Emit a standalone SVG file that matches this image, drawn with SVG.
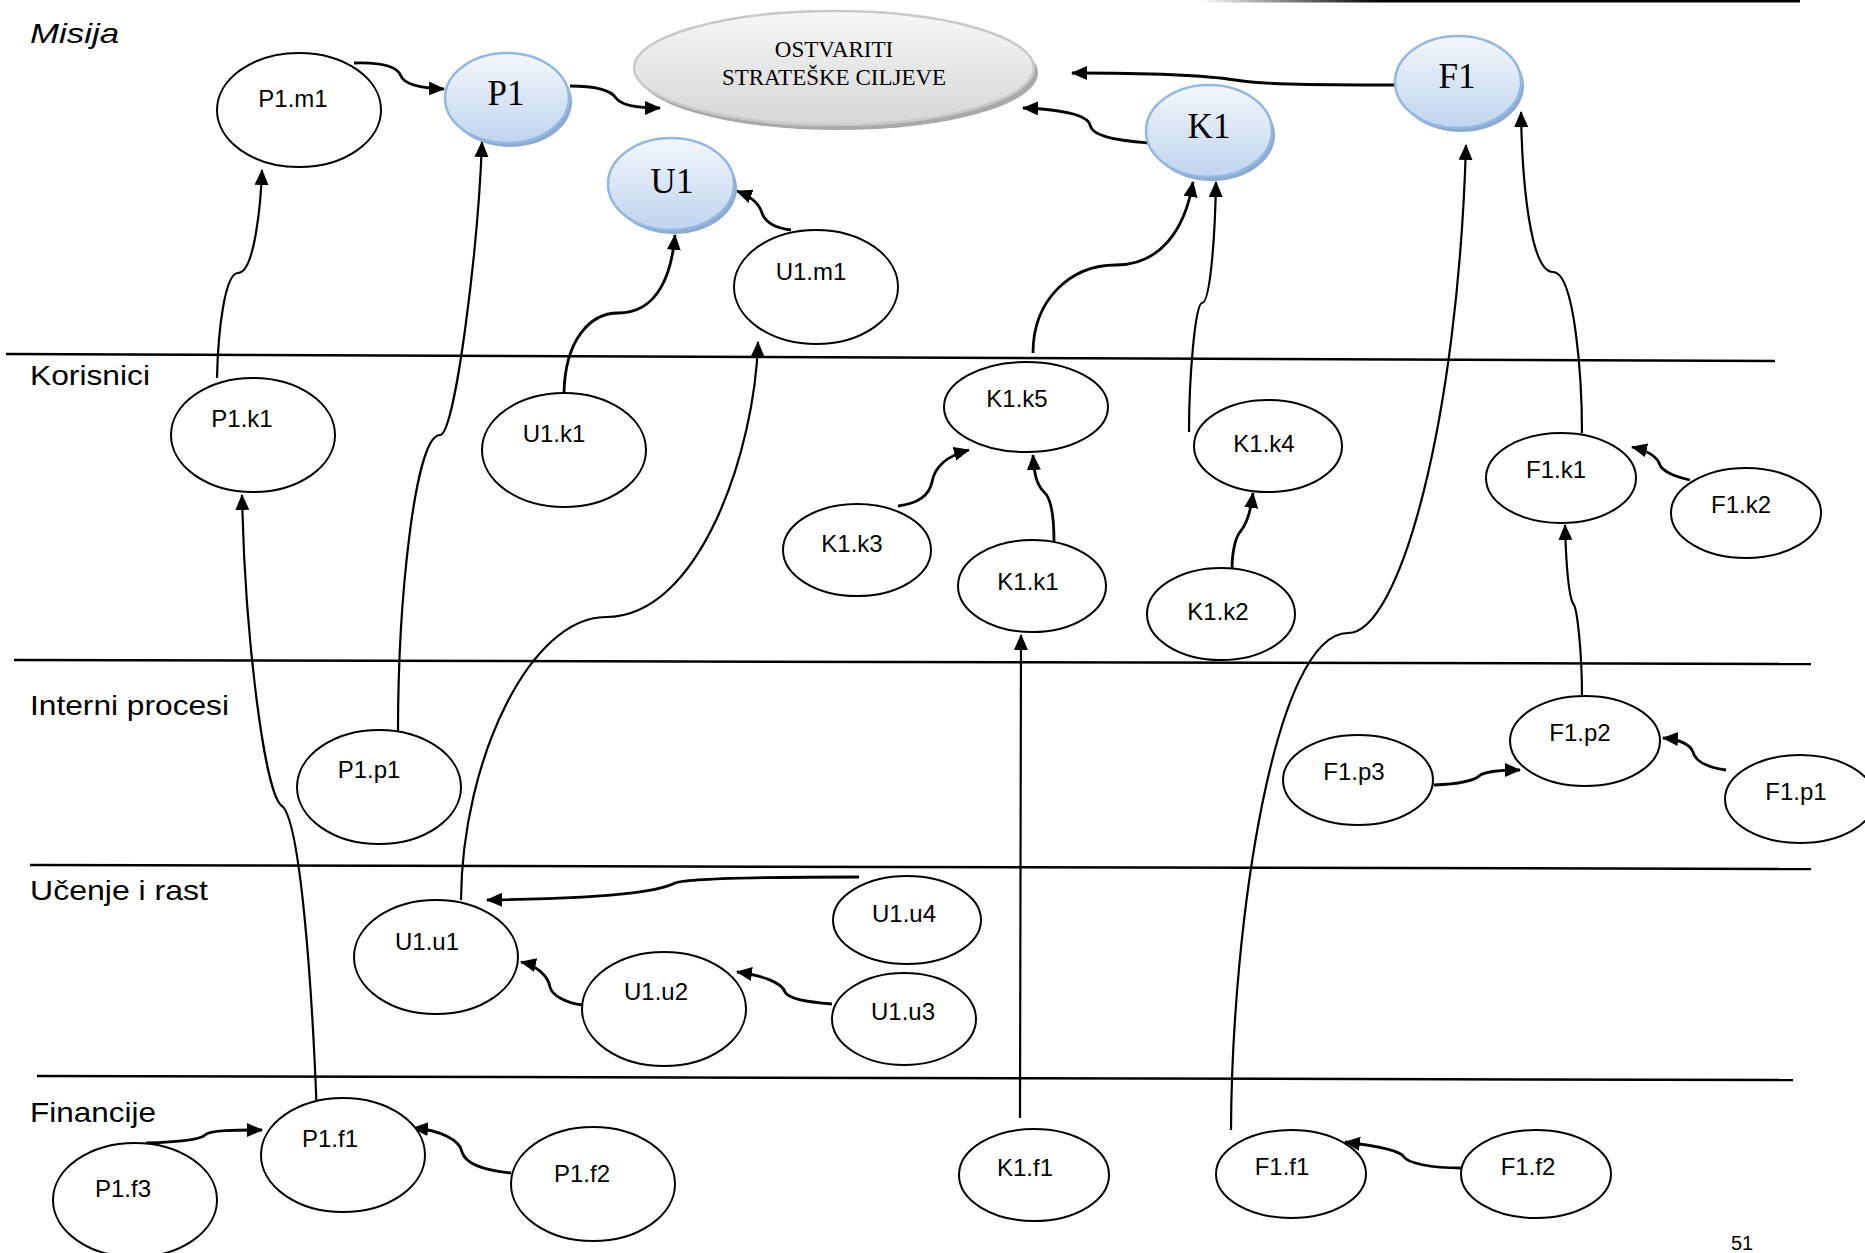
<svg xmlns="http://www.w3.org/2000/svg" width="1865" height="1253" viewBox="0 0 1865 1253">
<style>
.n{fill:#fff;stroke:#000;stroke-width:2}
.t{font-family:"Liberation Sans",Arial,sans-serif;font-size:24px;fill:#000;text-anchor:middle}
.bt{font-family:"Liberation Serif","Times New Roman",serif;font-size:35px;fill:#000;text-anchor:middle}
.lane{font-family:"Liberation Sans",Arial,sans-serif;font-size:28px;fill:#000}
.c{fill:none;stroke:#000;stroke-width:2.8}
.cl{fill:none;stroke:#000;stroke-width:2.2;}
.ln{stroke:#000;stroke-width:2.5}
.bs{fill:#8eaad0}
.bn{fill:url(#blue);stroke:#93b8e0;stroke-width:2.5}
</style>
<defs>
<linearGradient id="blue" x1="0" y1="0" x2="0" y2="1">
<stop offset="0" stop-color="#f4f7fc"/>
<stop offset="1" stop-color="#bfd4ee"/>
</linearGradient>
<linearGradient id="gray" x1="0" y1="0" x2="0" y2="1">
<stop offset="0" stop-color="#f7f7f7"/>
<stop offset="1" stop-color="#d6d6d6"/>
</linearGradient>
<linearGradient id="topln" x1="0" y1="0" x2="1" y2="0">
<stop offset="0" stop-color="#ffffff"/>
<stop offset="0.3" stop-color="#000"/>
<stop offset="1" stop-color="#000"/>
</linearGradient>
<marker id="a" markerUnits="userSpaceOnUse" markerWidth="18" markerHeight="16" refX="15" refY="7" orient="auto">
<path d="M0,0 L16,7 L0,14 z" fill="#000"/>
</marker>
</defs>

<g id="lanes">
<rect x="1199" y="0" width="601" height="2.5" fill="url(#topln)"/>
<line class="ln" x1="6" y1="354" x2="1775" y2="361"/>
<line class="ln" x1="14" y1="660" x2="1811" y2="664"/>
<line class="ln" x1="30" y1="865" x2="1811" y2="869"/>
<line class="ln" x1="37" y1="1076" x2="1793" y2="1080"/>
<text class="lane" x="30" y="43" font-style="italic" textLength="89" lengthAdjust="spacingAndGlyphs">Misija</text>
<text class="lane" x="30" y="385" textLength="120" lengthAdjust="spacingAndGlyphs">Korisnici</text>
<text class="lane" x="30" y="715" textLength="199" lengthAdjust="spacingAndGlyphs">Interni procesi</text>
<text class="lane" x="30" y="900" textLength="178" lengthAdjust="spacingAndGlyphs">Učenje i rast</text>
<text class="lane" x="30" y="1122" textLength="126" lengthAdjust="spacingAndGlyphs">Financije</text>
<text x="1742" y="1250" font-family="'Liberation Sans',Arial,sans-serif" font-size="20" text-anchor="middle">51</text>
</g>

<g id="connectors">
<path class="c" marker-end="url(#a)" d="M354,63 C385,62 398,68 401,76 C404,84 418,88 444,89"/>
<path class="c" marker-end="url(#a)" d="M570,86 C600,86 612,92 616,98 C620,104 635,108 660,108"/>
<path class="c" marker-end="url(#a)" d="M1149,143 C1110,140 1092,135 1090,125 C1088,115 1060,109 1023,108"/>
<path class="c" marker-end="url(#a)" d="M1396,85 C1300,85 1260,84 1235,80 C1210,76 1150,73 1072,73"/>
<path class="c" marker-end="url(#a)" d="M791,230 C775,228 765,222 762,213 C759,203 750,196 737,191"/>
<path class="c" marker-end="url(#a)" d="M564,393 C565,340 590,313 618,313 C660,313 672,270 675,235"/>
<path class="cl" marker-end="url(#a)" d="M217,378 C218,330 225,273 238,273 C255,273 261,200 262,170"/>
<path class="cl" marker-end="url(#a)" d="M398,732 C398,600 415,435 440,435 C455,435 478,250 482,142"/>
<path class="cl" marker-end="url(#a)" d="M461,900 C462,760 530,617 606,617 C700,617 755,450 758,342"/>
<path class="c" marker-end="url(#a)" d="M1033,353 C1033,300 1070,265 1116,265 C1160,265 1185,230 1193,182"/>
<path class="cl" marker-end="url(#a)" d="M1189,432 C1189,380 1195,303 1202,303 C1210,303 1215,240 1216,182"/>
<path class="cl" marker-end="url(#a)" d="M1231,1130 C1232,920 1275,633 1348,633 C1400,633 1458,420 1466,145"/>
<path class="cl" marker-end="url(#a)" d="M1582,433 C1582,380 1575,272 1553,272 C1530,272 1522,180 1521,112"/>
<path class="c" marker-end="url(#a)" d="M898,506 C922,503 930,492 932,482 C935,465 950,455 969,450"/>
<path class="c" marker-end="url(#a)" d="M1054,542 C1054,510 1050,497 1044,492 C1036,484 1034,472 1033,455"/>
<path class="c" marker-end="url(#a)" d="M1232,570 C1232,550 1236,537 1240,532 C1246,525 1251,510 1253,493"/>
<path class="c" marker-end="url(#a)" d="M1690,480 C1672,476 1662,470 1660,465 C1657,456 1645,450 1632,447"/>
<path class="cl" marker-end="url(#a)" d="M1582,697 C1582,650 1577,610 1574,605 C1568,598 1566,560 1565,525"/>
<path class="c" marker-end="url(#a)" d="M1726,770 C1705,767 1695,760 1693,752 C1690,744 1678,739 1663,738"/>
<path class="c" marker-end="url(#a)" d="M1434,785 C1460,784 1475,780 1479,776 C1485,771 1500,770 1520,770"/>
<path class="cl" marker-end="url(#a)" d="M1020,1118 L1021,635"/>
<path class="cl" marker-end="url(#a)" d="M317,1117 C312,980 300,820 282,806 C265,795 245,640 242,495"/>
<path class="c" marker-end="url(#a)" d="M859,877 C760,877 690,878 675,883 C665,888 640,898 487,900"/>
<path class="c" marker-end="url(#a)" d="M583,1005 C565,1003 552,995 550,987 C548,975 535,965 521,962"/>
<path class="c" marker-end="url(#a)" d="M832,1004 C805,1002 788,998 785,992 C782,982 760,975 737,972"/>
<path class="c" marker-end="url(#a)" d="M146,1143 C180,1142 200,1140 205,1135 C210,1130 235,1130 262,1130"/>
<path class="c" marker-end="url(#a)" d="M511,1173 C480,1170 465,1162 462,1152 C460,1140 440,1130 413,1128"/>
<path class="c" marker-end="url(#a)" d="M1461,1168 C1430,1168 1408,1163 1404,1157 C1400,1150 1370,1145 1345,1142"/>
</g>

<g id="ostvariti">
<ellipse cx="838" cy="73" rx="200" ry="57" fill="#a9a9a9"/>
<ellipse cx="834" cy="68" rx="200" ry="57" fill="url(#gray)" stroke="#c8c8c8" stroke-width="2.5"/>
<text x="834" y="57" font-family="'Liberation Serif','Times New Roman',serif" font-size="23" text-anchor="middle">OSTVARITI</text>
<text x="834" y="85" font-family="'Liberation Serif','Times New Roman',serif" font-size="23" text-anchor="middle">STRATEŠKE CILJEVE</text>
</g>

<g id="P1"><ellipse class="bs" cx="510" cy="102" rx="62" ry="45"/><ellipse class="bn" cx="507" cy="98" rx="62" ry="45"/><text class="bt" x="506" y="105">P1</text></g>
<g id="U1"><ellipse class="bs" cx="674" cy="188" rx="63" ry="46"/><ellipse class="bn" cx="671" cy="184" rx="63" ry="46"/><text class="bt" x="672" y="193">U1</text></g>
<g id="K1"><ellipse class="bs" cx="1212" cy="135" rx="63" ry="46"/><ellipse class="bn" cx="1209" cy="131" rx="63" ry="46"/><text class="bt" x="1209" y="138">K1</text></g>
<g id="F1"><ellipse class="bs" cx="1461" cy="86" rx="63" ry="46"/><ellipse class="bn" cx="1458" cy="82" rx="63" ry="46"/><text class="bt" x="1457" y="88">F1</text></g>

<g id="P1.m1"><ellipse class="n" cx="299" cy="110" rx="82" ry="57"/><text class="t" x="293" y="107">P1.m1</text></g>
<g id="U1.m1"><ellipse class="n" cx="816" cy="287" rx="82" ry="57"/><text class="t" x="811" y="280">U1.m1</text></g>
<g id="P1.k1"><ellipse class="n" cx="253" cy="435" rx="82" ry="57"/><text class="t" x="242" y="427">P1.k1</text></g>
<g id="U1.k1"><ellipse class="n" cx="564" cy="450" rx="82" ry="57"/><text class="t" x="554" y="442">U1.k1</text></g>
<g id="K1.k3"><ellipse class="n" cx="857" cy="550" rx="74" ry="46"/><text class="t" x="852" y="552">K1.k3</text></g>
<g id="K1.k5"><ellipse class="n" cx="1026" cy="407" rx="82" ry="45"/><text class="t" x="1017" y="407">K1.k5</text></g>
<g id="K1.k4"><ellipse class="n" cx="1268" cy="446" rx="74" ry="46"/><text class="t" x="1264" y="452">K1.k4</text></g>
<g id="F1.k1"><ellipse class="n" cx="1561" cy="478" rx="75" ry="45"/><text class="t" x="1556" y="478">F1.k1</text></g>
<g id="F1.k2"><ellipse class="n" cx="1746" cy="513" rx="75" ry="45"/><text class="t" x="1741" y="513">F1.k2</text></g>
<g id="K1.k1"><ellipse class="n" cx="1032" cy="586" rx="74" ry="46"/><text class="t" x="1028" y="590">K1.k1</text></g>
<g id="K1.k2"><ellipse class="n" cx="1221" cy="614" rx="74" ry="46"/><text class="t" x="1218" y="620">K1.k2</text></g>
<g id="P1.p1"><ellipse class="n" cx="379" cy="787" rx="82" ry="57"/><text class="t" x="369" y="778">P1.p1</text></g>
<g id="F1.p3"><ellipse class="n" cx="1358" cy="780" rx="75" ry="45"/><text class="t" x="1354" y="780">F1.p3</text></g>
<g id="F1.p2"><ellipse class="n" cx="1585" cy="741" rx="75" ry="45"/><text class="t" x="1580" y="741">F1.p2</text></g>
<g id="F1.p1"><ellipse class="n" cx="1800" cy="799" rx="75" ry="44"/><text class="t" x="1796" y="800">F1.p1</text></g>
<g id="U1.u1"><ellipse class="n" cx="436" cy="957" rx="82" ry="57"/><text class="t" x="427" y="950">U1.u1</text></g>
<g id="U1.u2"><ellipse class="n" cx="664" cy="1009" rx="82" ry="57"/><text class="t" x="656" y="1000">U1.u2</text></g>
<g id="U1.u4"><ellipse class="n" cx="907" cy="920" rx="74" ry="44"/><text class="t" x="904" y="922">U1.u4</text></g>
<g id="U1.u3"><ellipse class="n" cx="904" cy="1019" rx="72" ry="46"/><text class="t" x="903" y="1020">U1.u3</text></g>
<g id="P1.f1"><ellipse class="n" cx="343" cy="1155" rx="82" ry="57"/><text class="t" x="330" y="1147">P1.f1</text></g>
<g id="P1.f3"><ellipse class="n" cx="135" cy="1200" rx="82" ry="57"/><text class="t" x="123" y="1197">P1.f3</text></g>
<g id="P1.f2"><ellipse class="n" cx="593" cy="1184" rx="82" ry="57"/><text class="t" x="582" y="1182">P1.f2</text></g>
<g id="K1.f1"><ellipse class="n" cx="1034" cy="1175" rx="75" ry="46"/><text class="t" x="1025" y="1176">K1.f1</text></g>
<g id="F1.f1"><ellipse class="n" cx="1291" cy="1174" rx="75" ry="44"/><text class="t" x="1282" y="1175">F1.f1</text></g>
<g id="F1.f2"><ellipse class="n" cx="1536" cy="1174" rx="75" ry="44"/><text class="t" x="1528" y="1175">F1.f2</text></g>
</svg>
